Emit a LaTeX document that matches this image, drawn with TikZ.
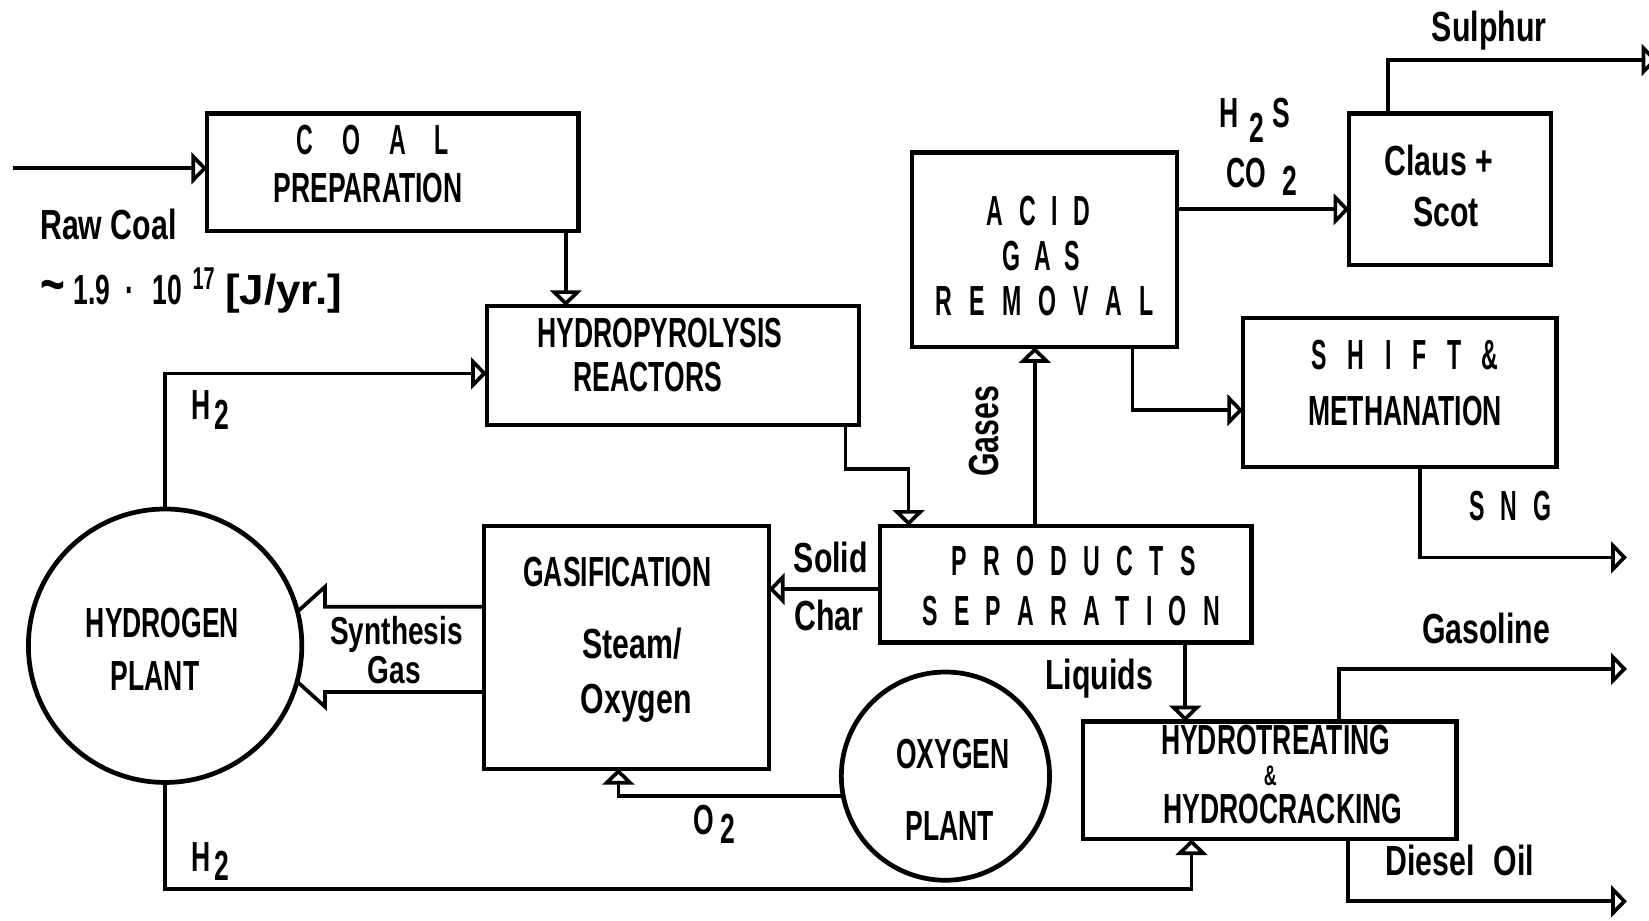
\documentclass[tikz,border=0pt]{standalone}
\usepackage{fontspec}
\usepackage{graphicx}
\usetikzlibrary{arrows.meta,calc}
\setmainfont{Liberation Sans}
\newfontfamily\capf[FakeStretch=0.63]{Liberation Sans}
\newfontfamily\lowf[FakeStretch=0.72]{Liberation Sans}
\newfontfamily\spf[FakeStretch=0.55]{Liberation Sans}
\newcommand\spcd[2]{{\spaceskip=#1pt\relax #2}}
\tikzset{
  ln/.style={line width=3.5pt, line join=miter},
  arr/.style={ln, -{Triangle[open, length=15pt, width=30pt]}},
  box/.style={draw, line width=4pt, rectangle, inner sep=0pt, outer sep=0pt},
  plant/.style={draw, line width=4.5pt, circle, fill=white, inner sep=0pt, outer sep=0pt},
  captxt/.style={inner sep=0pt, text height=28.6pt, text depth=0pt, font=\capf\bfseries\fontsize{40}{44}\selectfont},
  lowtxt/.style={captxt, font=\lowf\bfseries\fontsize{40}{44}\selectfont},
  sptxt/.style={captxt, font=\spf\bfseries\fontsize{40}{44}\selectfont},
}
\begin{document}
\begin{tikzpicture}[x=1pt,y=-1pt]
\fill[white] (0,0) rectangle (1568,875);
\useasboundingbox (0,0) rectangle (1568,875);

% boxes
\node[box, minimum width=353pt, minimum height=112pt] (coal) at (373.5,164) {};
\node[box, minimum width=354pt, minimum height=113pt] (hydro) at (640,347.5) {};
\node[box, minimum width=252pt, minimum height=185pt] (acid) at (993,237.5) {};
\node[box, minimum width=192pt, minimum height=144pt] (claus) at (1379,180) {};
\node[box, minimum width=298pt, minimum height=142pt] (shift) at (1331,373) {};
\node[box, minimum width=353pt, minimum height=111pt] (prod) at (1013.5,555.5) {};
\node[box, minimum width=271pt, minimum height=231pt] (gasif) at (595.5,615.5) {};
\node[box, minimum width=355pt, minimum height=112pt] (hydrot) at (1207.5,742) {};

% synthesis gas block arrow
\draw[ln] ([yshift=38.5pt]gasif.west) -- (309,577) -- (309,558) -- (246,615) -- (309,672) -- (309,658) -- ([yshift=-42.5pt]gasif.west);

% plants
\node[plant, minimum size=260pt] (h2p) at (157,614) {};
\node[plant, minimum size=198pt] (o2p) at (899,738) {};

% free ends
\coordinate (raw) at (12,160);
\coordinate (hp) at (864,446);
\coordinate (sul) at (1576,57);
\coordinate (sng) at (1547,530);
\coordinate (hb) at (1133,845);
\coordinate (gsl) at (1547,636);
\coordinate (dsl) at (1547,857);

% connectors
\draw[arr] (raw) -- (raw -| coal.west);
\draw[arr] ([xshift=-12pt]coal.south east) -- ([xshift=-12pt]coal.south east |- hydro.north);
\draw[arr] (h2p.north) |- ([yshift=-7.5pt]hydro.west);
\draw[arr] ([xshift=-13pt]hydro.south east) |- (hp) -- (hp |- prod.north);
\draw[arr] ([xshift=-29.5pt]prod.north) -- ([xshift=-29.5pt]prod.north |- acid.south);
\draw[arr] ([yshift=38.5pt]acid.east) -- ([yshift=38.5pt]acid.east -| claus.west);
\draw[arr] ([xshift=-59pt]claus.north) |- (sul);
\draw[arr] ([xshift=-42pt]acid.south east) |- ([yshift=-17pt]shift.west);
\draw[arr] ([xshift=19pt]shift.south) |- (sng);
\draw[arr] ([yshift=-4.5pt]prod.west) -- ([yshift=-4.5pt]prod.west -| gasif.east);
\draw[arr] (o2p.191) -| ([xshift=-7.5pt]gasif.south);
\draw[arr] (h2p.south) |- (hb) -- (hb |- hydrot.south);
\draw[arr] ([xshift=113.5pt]prod.south) -- ([xshift=113.5pt]prod.south |- hydrot.north);
\draw[arr] ([xshift=65.5pt]hydrot.north) |- (gsl);
\draw[arr] ([xshift=74.5pt]hydrot.south) |- (dsl);

% labels
\node[sptxt] (t-coal) at (354.5,133) {\spcd{27.6}{C O A L}};
\node[captxt] (t-prep) at (350,178) {PREPARATION};
\node[lowtxt] (t-raw) at (103,213) {Raw Coal};
\node[captxt, anchor=west] (t-rate) at (38,275) {\scalebox{1.4}{\lowf\textasciitilde}\hspace{8pt}1.9\hspace{15pt}·\hspace{17pt}10\hspace{10pt}\raisebox{14pt}{\fontsize{30}{32}\selectfont 17}\hspace{10pt}\scalebox{1.45}[1]{\lowf [J/yr.]}};
\node[captxt] (t-hyd1) at (627.5,316) {HYDROPYROLYSIS};
\node[captxt] (t-hyd2) at (616,358) {REACTORS};
\node[captxt] (t-h2a) at (200,385) {H\hspace{4pt}\raisebox{-9pt}{2}};
\node[sptxt] (t-acid1) at (987.5,200) {\spcd{15.1}{A C I D}};
\node[sptxt] (t-acid2) at (990,243) {\spcd{13.2}{G A S}};
\node[sptxt] (t-acid3) at (993.5,286) {\spcd{16.2}{R E M O V A L}};
\node[captxt] (t-h2s) at (1193,107) {H\hspace{10pt}\raisebox{-14pt}{2}\hspace{8pt}S};
\node[captxt] (t-co2) at (1200,164) {CO\hspace{16pt}\raisebox{-8pt}{2}};
\node[lowtxt] (t-claus1) at (1368,153) {Claus +};
\node[lowtxt] (t-claus2) at (1375,201) {Scot};
\node[lowtxt] (t-sul) at (1416,25) {Sulphur};
\node[sptxt] (t-shift1) at (1336,337) {\spcd{19.7}{S H I F T \&}};
\node[captxt] (t-shift2) at (1336,390) {METHANATION};
\node[sptxt] (t-sng) at (1436,481) {\spcd{15.2}{S N G}};
\node[lowtxt, rotate=90] (t-gases) at (935,410) {Gases};
\node[sptxt] (t-prod1) at (1021,533) {\spcd{15.5}{P R O D U C T S}};
\node[sptxt] (t-prod2) at (1018.5,580) {\spcd{15.4}{S E P A R A T I O N}};
\node[lowtxt] (t-solid) at (790,530) {Solid};
\node[lowtxt] (t-char) at (788,585) {Char};
\node[captxt] (t-gas1) at (587,543) {GASIFICATION};
\node[lowtxt] (t-gas2) at (601,612) {Steam/};
\node[lowtxt] (t-gas3) at (605,664) {Oxygen};
\node[lowtxt, text height=26pt, font=\lowf\bfseries\fontsize{37}{40}\selectfont] (t-syn1) at (377,600) {Synthesis};
\node[lowtxt, text height=26pt, font=\lowf\bfseries\fontsize{37}{40}\selectfont] (t-syn2) at (375,637) {Gas};
\node[captxt] (t-h2p1) at (154.5,592) {HYDROGEN};
\node[captxt] (t-h2p2) at (147.5,642) {PLANT};
\node[captxt] (t-o2p1) at (906,716) {OXYGEN};
\node[captxt] (t-o2p2) at (903,785) {PLANT};
\node[captxt] (t-o2) at (679,779) {O\hspace{6pt}\raisebox{-9pt}{2}};
\node[lowtxt] (t-liq) at (1045,641) {Liquids};
\node[lowtxt] (t-gsl) at (1413,598) {Gasoline};
\node[captxt] (t-ht1) at (1213,703) {HYDROTREATING};
\node[inner sep=0pt, text height=19pt, text depth=0pt, font=\capf\bfseries\fontsize{27}{29}\selectfont] (t-ht2) at (1208,737) {\&};
\node[captxt] (t-ht3) at (1220,769) {HYDROCRACKING};
\node[lowtxt] (t-dsl) at (1388,818) {Diesel\hspace{18pt}Oil};
\node[captxt] (t-h2b) at (200,814) {H\hspace{4pt}\raisebox{-9pt}{2}};
\end{tikzpicture}
\end{document}
